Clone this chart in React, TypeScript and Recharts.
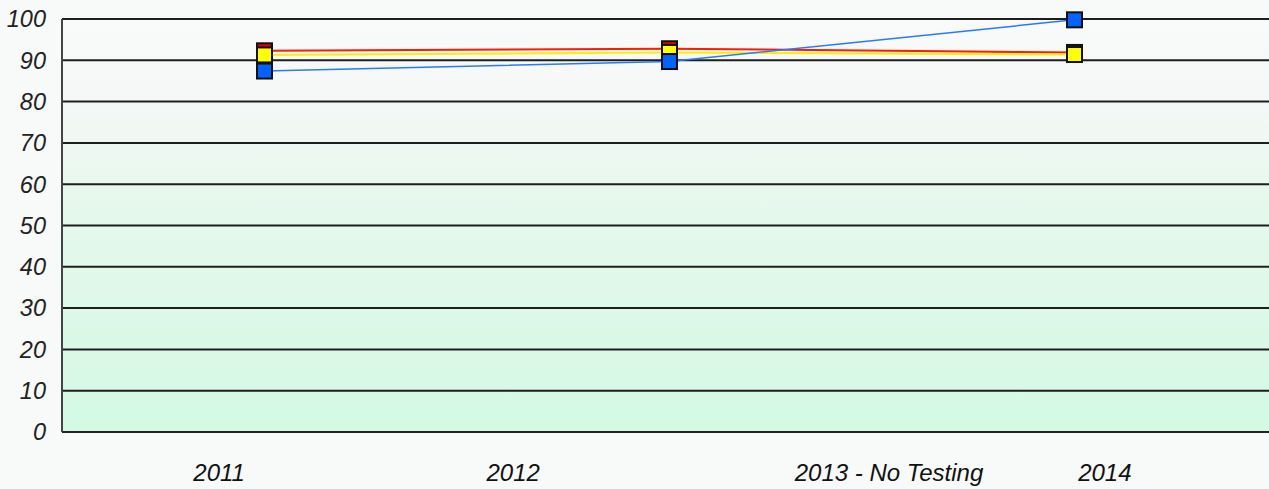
import { LineChart, Line, XAxis, YAxis, CartesianGrid } from "recharts";

// tested years (2013 had no testing)
const years = ["2011", "2012", "2014"];
const redScores = [92.3, 92.8, 91.9];
const yellowScores = [91.3, 91.9, 91.4];
const blueScores = [87.4, 89.7, 99.8];

// category labels along the bottom and where they sit on the 0..3 slot scale
const axisLabels = ["2011", "2012", "2013 - No Testing", "2014"];
const labelAt = [0.388, 1.114, 2.042, 2.575];

const yTicks = [0, 10, 20, 30, 40, 50, 60, 70, 80, 90, 100];

const data = years.map((year, i) => ({
  year,
  slot: i + 0.5,
  red: redScores[i],
  yellow: yellowScores[i],
  blue: blueScores[i],
}));

const squareDot = (fill: string) => (props: any) => {
  const { cx, cy, index } = props;
  if (cx == null || cy == null) return null;
  return (
    <rect key={`d-${fill}-${index}`} x={cx - 7.5} y={cy - 7.5} width={15} height={15} fill={fill} stroke="#111" strokeWidth={2} />
  );
};

const font = "'Liberation Sans', Arial, sans-serif";

export default function App() {
  return (
    <div style={{ position: "absolute", left: 0, top: 0, width: 1269, height: 489, background: "#f8f9f9" }}>
      <LineChart width={1269} height={489} data={data} margin={{ top: 19, right: -8, bottom: 0, left: 0 }}>
        <defs>
          <linearGradient id="plotBg" x1="0" y1="0" x2="0" y2="1">
            <stop offset="0" stopColor="#f9fafa" />
            <stop offset="0.2" stopColor="#f5f8f7" />
            <stop offset="0.4" stopColor="#e8f8ee" />
            <stop offset="1" stopColor="#d3f9e3" />
          </linearGradient>
        </defs>
        <CartesianGrid vertical={false} horizontal stroke="#1e1e1e" strokeWidth={2} fill="url(#plotBg)" fillOpacity={1} />
        <XAxis
          dataKey="slot"
          type="number"
          domain={[0, 3]}
          ticks={labelAt}
          tickFormatter={(v: number) => axisLabels[labelAt.indexOf(v)] ?? ""}
          height={57}
          tickLine={false}
          tickMargin={26}
          axisLine={{ stroke: "#222", strokeWidth: 2 }}
          tick={{ fill: "#111", fontSize: 24, fontStyle: "italic", fontFamily: font }}
          interval={0}
        />
        <YAxis
          type="number"
          domain={[0, 100]}
          ticks={yTicks}
          width={62}
          tickLine={false}
          tickMargin={10}
          axisLine={{ stroke: "#444", strokeWidth: 2 }}
          tick={{ fill: "#222", fontSize: 23.5, fontStyle: "italic", fontFamily: font }}
          interval={0}
        />
        <Line type="linear" dataKey="red" stroke="#ff1a00" strokeWidth={2} dot={squareDot("#e00000")} activeDot={false} isAnimationActive={false} />
        <Line type="linear" dataKey="yellow" stroke="#ffee00" strokeWidth={2} dot={squareDot("#ffff00")} activeDot={false} isAnimationActive={false} />
        <Line type="linear" dataKey="blue" stroke="#2a78ff" strokeWidth={1.5} dot={squareDot("#0062ff")} activeDot={false} isAnimationActive={false} />
      </LineChart>
    </div>
  );
}
